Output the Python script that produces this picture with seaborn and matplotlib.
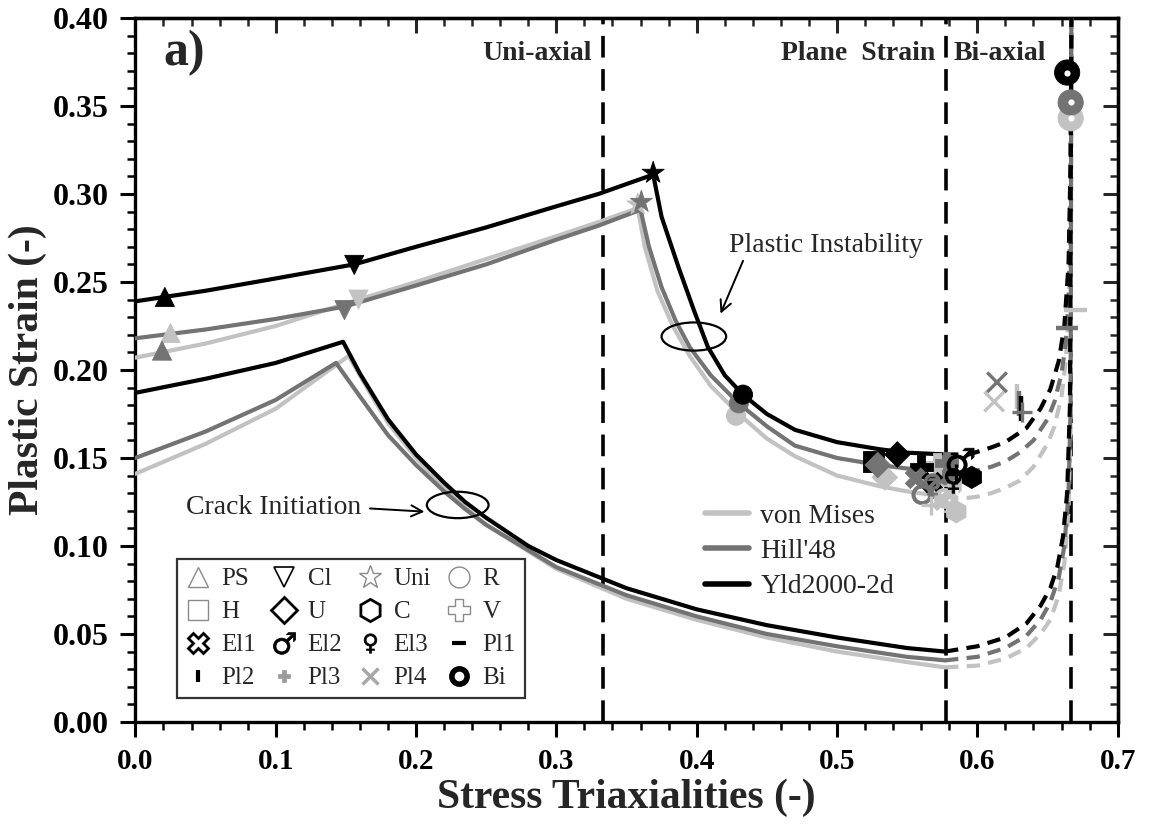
import matplotlib
matplotlib.use("Agg")
import numpy as np
import pandas as pd
import matplotlib.pyplot as plt
from matplotlib.patches import Ellipse
from matplotlib.lines import Line2D
import seaborn as sns

# ---------------------------------------------------------------- data
models = ["von Mises", "Hill'48", "Yld2000-2d"]
model_colors = ["#c2c2c2", "#737373", "#000000"]

# Plastic instability (forming limit) curves: solid part up to plane strain
inst_vm_x = [0.0, 0.05, 0.10, 0.159, 0.20, 0.25, 0.30, 0.33, 0.358, 0.363, 0.372, 0.383, 0.395, 0.41, 0.43, 0.45, 0.47, 0.50, 0.53, 0.55, 0.577]
inst_vm_y = [0.207, 0.215, 0.225, 0.240, 0.250, 0.263, 0.276, 0.284, 0.292, 0.270, 0.245, 0.225, 0.208, 0.191, 0.175, 0.161, 0.151, 0.140, 0.134, 0.131, 0.128]
inst_hill_x = [0.0, 0.05, 0.10, 0.149, 0.20, 0.25, 0.30, 0.33, 0.360, 0.366, 0.375, 0.385, 0.395, 0.41, 0.43, 0.45, 0.47, 0.50, 0.53, 0.55, 0.577]
inst_hill_y = [0.218, 0.223, 0.229, 0.236, 0.248, 0.260, 0.274, 0.282, 0.291, 0.270, 0.247, 0.228, 0.213, 0.197, 0.181, 0.168, 0.157, 0.150, 0.146, 0.144, 0.143]
inst_yld_x = [0.0, 0.05, 0.10, 0.156, 0.20, 0.25, 0.30, 0.33, 0.369, 0.375, 0.387, 0.398, 0.408, 0.42, 0.433, 0.45, 0.47, 0.50, 0.53, 0.55, 0.577]
inst_yld_y = [0.239, 0.245, 0.252, 0.260, 0.270, 0.281, 0.293, 0.300, 0.311, 0.287, 0.2585, 0.234, 0.213, 0.197, 0.186, 0.175, 0.166, 0.159, 0.155, 0.153, 0.152]

# Plastic instability: extrapolated part towards equi-biaxial
inst_vm_ext_x = [0.577, 0.59, 0.60, 0.61, 0.62, 0.63, 0.64, 0.65, 0.655, 0.66, 0.663, 0.665, 0.6665, 0.667]
inst_vm_ext_y = [0.128, 0.127, 0.128, 0.130, 0.133, 0.137, 0.145, 0.158, 0.168, 0.185, 0.205, 0.230, 0.280, 0.400]
inst_hill_ext_x = [0.577, 0.59, 0.60, 0.61, 0.62, 0.63, 0.64, 0.65, 0.655, 0.66, 0.663, 0.665, 0.6665, 0.667]
inst_hill_ext_y = [0.143, 0.1425, 0.143, 0.145, 0.148, 0.153, 0.160, 0.172, 0.182, 0.198, 0.215, 0.240, 0.300, 0.400]
inst_yld_ext_x = [0.577, 0.594, 0.61, 0.62, 0.635, 0.645, 0.652, 0.658, 0.662, 0.665, 0.6665, 0.667]
inst_yld_ext_y = [0.152, 0.152, 0.156, 0.159, 0.167, 0.178, 0.189, 0.205, 0.225, 0.260, 0.320, 0.400]

# Crack initiation (fracture) curves: solid part
crack_vm_x = [0.0, 0.05, 0.10, 0.152, 0.165, 0.18, 0.20, 0.22, 0.235, 0.25, 0.30, 0.35, 0.40, 0.45, 0.50, 0.55, 0.577]
crack_vm_y = [0.141, 0.158, 0.178, 0.208, 0.190, 0.170, 0.150, 0.133, 0.122, 0.112, 0.087, 0.070, 0.058, 0.048, 0.040, 0.034, 0.031]
crack_hill_x = [0.0, 0.05, 0.10, 0.143, 0.16, 0.18, 0.20, 0.22, 0.235, 0.25, 0.30, 0.35, 0.40, 0.45, 0.50, 0.55, 0.577]
crack_hill_y = [0.150, 0.165, 0.183, 0.204, 0.185, 0.163, 0.146, 0.131, 0.121, 0.112, 0.088, 0.072, 0.060, 0.050, 0.043, 0.037, 0.035]
crack_yld_x = [0.0, 0.05, 0.10, 0.148, 0.16, 0.18, 0.20, 0.22, 0.235, 0.25, 0.28, 0.30, 0.35, 0.40, 0.45, 0.50, 0.55, 0.577]
crack_yld_y = [0.187, 0.195, 0.204, 0.216, 0.198, 0.172, 0.152, 0.136, 0.125, 0.116, 0.100, 0.092, 0.076, 0.064, 0.055, 0.048, 0.042, 0.040]

# Crack initiation: extrapolated part
crack_vm_ext_x = [0.577, 0.60, 0.62, 0.635, 0.645, 0.652, 0.658, 0.662, 0.665, 0.6665, 0.667]
crack_vm_ext_y = [0.031, 0.032, 0.036, 0.042, 0.050, 0.058, 0.072, 0.090, 0.120, 0.170, 0.400]
crack_hill_ext_x = [0.577, 0.60, 0.62, 0.635, 0.645, 0.652, 0.658, 0.662, 0.665, 0.6665, 0.667]
crack_hill_ext_y = [0.035, 0.037, 0.042, 0.049, 0.058, 0.068, 0.082, 0.100, 0.130, 0.180, 0.400]
crack_yld_ext_x = [0.577, 0.60, 0.62, 0.635, 0.645, 0.652, 0.657, 0.661, 0.664, 0.666, 0.667]
crack_yld_ext_y = [0.040, 0.043, 0.048, 0.056, 0.066, 0.076, 0.088, 0.105, 0.130, 0.180, 0.400]

# Limit strains of the individual specimens (order: von Mises, Hill'48, Yld2000-2d)
ps_x, ps_y = [0.025, 0.019, 0.021], [0.221, 0.211, 0.2415]
cl_x, cl_y = [0.159, 0.149, 0.156], [0.240, 0.234, 0.2597]
uni_x, uni_y = [0.358, 0.3606, 0.369], [0.294, 0.2955, 0.312]
r_x, r_y = [0.428, 0.430, 0.433], [0.174, 0.181, 0.186]
h_x, h_y = [0.576, 0.5775, 0.526], [0.140, 0.146, 0.148]
u_x, u_y = [0.534, 0.529, 0.543], [0.139, 0.146, 0.152]
c_x, c_y = [0.585, 0.577, 0.596], [0.1195, 0.141, 0.139]
v_x, v_y = [0.571, 0.578, 0.560], [0.146, 0.147, 0.145]
el1_x, el1_y = [0.575, 0.556, 0.568], [0.126, 0.1385, 0.136]
el2_x, el2_y = [0.579, 0.563, 0.588], [0.129, 0.131, 0.148]
el3_x, el3_y = [0.580, 0.568, 0.583], [0.124, 0.134, 0.137]
pl1_x, pl1_y = [0.670, 0.664], [0.234, 0.224]
pl2_x, pl2_y = [0.628, 0.630, 0.631], [0.185, 0.181, 0.178]
pl3_x, pl3_y = [0.567, 0.632, 0.585], [0.123, 0.176, 0.141]
pl4_x, pl4_y = [0.612, 0.614], [0.182, 0.193]
bi_x, bi_y = [0.6665, 0.6665, 0.664], [0.343, 0.352, 0.369]

xticks = [0.0, 0.1, 0.2, 0.3, 0.4, 0.5, 0.6, 0.7]
yticks = [0.00, 0.05, 0.10, 0.15, 0.20, 0.25, 0.30, 0.35, 0.40]
region_bounds = [1 / 3, 0.5774, 0.6667]

# ---------------------------------------------------------------- style
sns.set_theme(style="ticks")
plt.rcParams["font.family"] = ["Liberation Serif", "DejaVu Sans"]
plt.rcParams["mathtext.fontset"] = "dejavusans"

fig = plt.figure(figsize=(11.57, 8.36), dpi=100)
ax = fig.add_axes([0.1170, 0.1364, 0.8490, 0.8421])
palette = dict(zip(models, model_colors))

LW = 3.0
DASH = (0, (3.2, 2.0))

curves = [
    (inst_vm_x, inst_vm_y, inst_vm_ext_x, inst_vm_ext_y, "von Mises"),
    (inst_hill_x, inst_hill_y, inst_hill_ext_x, inst_hill_ext_y, "Hill'48"),
    (inst_yld_x, inst_yld_y, inst_yld_ext_x, inst_yld_ext_y, "Yld2000-2d"),
    (crack_vm_x, crack_vm_y, crack_vm_ext_x, crack_vm_ext_y, "von Mises"),
    (crack_hill_x, crack_hill_y, crack_hill_ext_x, crack_hill_ext_y, "Hill'48"),
    (crack_yld_x, crack_yld_y, crack_yld_ext_x, crack_yld_ext_y, "Yld2000-2d"),
]
for sx, sy, ex, ey, m in curves:
    sns.lineplot(x=sx, y=sy, sort=False, estimator=None, color=palette[m],
                 lw=LW, ax=ax, zorder=3)
    sns.lineplot(x=ex, y=ey, sort=False, estimator=None, color=palette[m],
                 lw=LW, ax=ax, zorder=3, linestyle=DASH)

# stress-state boundaries
for xb in region_bounds:
    ax.axvline(xb, color="black", lw=2.6, linestyle=(0, (6, 3.2)), zorder=2)

# specimen markers
def scatter_group(xs, ys, marker, size, lw=0.6, z=5):
    df = pd.DataFrame({"x": xs, "y": ys, "model": models[:len(xs)]})
    sns.scatterplot(data=df, x="x", y="y", hue="model", palette=palette,
                    marker=marker, s=size, linewidth=lw, edgecolor="face",
                    legend=False, ax=ax, zorder=z)

scatter_group(ps_x, ps_y, "^", 190)
scatter_group(cl_x, cl_y, "v", 190)
scatter_group(uni_x, uni_y, "*", 280)
scatter_group(r_x, r_y, "o", 190)
scatter_group(h_x, h_y, "s", 220)
scatter_group(u_x, u_y, "D", 170)
scatter_group(c_x, c_y, "h", 260)
scatter_group(v_x, v_y, "P", 280)
scatter_group(el1_x, el1_y, "X", 220)
scatter_group(el2_x, el2_y, "$\u2642$", 380)
scatter_group(el3_x, el3_y, "$\u2640$", 320)
scatter_group(pl1_x, pl1_y, "_", 260, lw=3.2)
scatter_group(pl2_x, pl2_y, "|", 320, lw=3.2)
scatter_group(pl3_x, pl3_y, "+", 200, lw=2.4)
scatter_group(pl4_x, pl4_y, "x", 200, lw=2.4)
scatter_group(bi_x, bi_y, "o", 330, z=6)
sns.scatterplot(x=bi_x, y=bi_y, color="white", s=20, linewidth=0,
                legend=False, ax=ax, zorder=7)

# ---------------------------------------------------------------- axes
ax.set_xlim(0, 0.7)
ax.set_ylim(0, 0.40)
ax.set_xticks(xticks)
ax.set_yticks(yticks)
ax.set_xticklabels([f"{t:.1f}" for t in xticks])
ax.set_yticklabels([f"{t:.2f}" for t in yticks])
ax.set_xticks(np.arange(0, 0.7001, 0.02), minor=True)
ax.set_yticks(np.arange(0, 0.4001, 0.01), minor=True)
ax.tick_params(axis="both", which="major", direction="out", length=11, width=2.2,
               pad=8, color="black", labelcolor="black")
ax.tick_params(axis="x", which="major", labelsize=21)
ax.tick_params(axis="y", which="major", labelsize=23)
ax.tick_params(axis="both", which="minor", direction="out", length=6, width=1.8,
               color="black")
for lab in ax.get_xticklabels() + ax.get_yticklabels():
    lab.set_fontweight("bold")
for sp in ax.spines.values():
    sp.set_visible(True)
    sp.set_linewidth(2.4)
    sp.set_color("black")

top = ax.secondary_xaxis("top")
top.set_xticks(xticks)
top.set_xticks(np.arange(0, 0.7001, 0.02), minor=True)
top.tick_params(which="major", direction="in", length=11, width=2.2, labeltop=False)
top.tick_params(which="minor", direction="in", length=6, width=1.8)
top.spines["top"].set_linewidth(2.4)
right = ax.secondary_yaxis("right")
right.set_yticks(yticks)
right.set_yticks(np.arange(0, 0.4001, 0.01), minor=True)
right.tick_params(which="major", direction="in", length=11, width=2.2, labelright=False)
right.tick_params(which="minor", direction="in", length=6, width=1.8)
right.spines["right"].set_linewidth(2.4)

ax.set_xlabel("Stress Triaxialities (-)", fontsize=30, fontweight="bold", labelpad=2)
ax.set_ylabel("Plastic Strain (-)", fontsize=30, fontweight="bold", labelpad=4)

# ---------------------------------------------------------------- annotations
ax.text(0.020, 0.380, "a)", fontsize=36, fontweight="bold", va="center", ha="left")
ax.text(0.325, 0.380, "Uni-axial", fontsize=20, fontweight="bold", ha="right", va="center")
ax.text(0.570, 0.380, "Plane  Strain", fontsize=20, fontweight="bold", ha="right", va="center")
ax.text(0.583, 0.380, "Bi-axial", fontsize=20, fontweight="bold", ha="left", va="center")

ax.add_patch(Ellipse((0.398, 0.219), 0.046, 0.016, fill=False, lw=1.6,
                     edgecolor="black", zorder=8))
ax.add_patch(Ellipse((0.2297, 0.1233), 0.044, 0.015, fill=False, lw=1.6,
                     edgecolor="black", zorder=8))
ax.annotate("Plastic Instability", xy=(0.417, 0.232), xytext=(0.423, 0.271),
            fontsize=20, va="center", ha="left",
            arrowprops=dict(arrowstyle="->", lw=1.4, color="black",
                            shrinkA=0, shrinkB=0, relpos=(0.08, 0.0)))
ax.annotate("Crack Initiation", xy=(0.206, 0.1195), xytext=(0.036, 0.1216),
            fontsize=20, va="center", ha="left",
            arrowprops=dict(arrowstyle="->", lw=1.4, color="black",
                            shrinkA=4, shrinkB=0, relpos=(1.0, 0.5)))

# ---------------------------------------------------------------- legends
line_handles = [Line2D([], [], color=c, lw=4) for c in model_colors]
leg1 = ax.legend(line_handles, models, loc="upper left", bbox_to_anchor=(0.560, 0.338),
                 frameon=False, fontsize=20, handlelength=1.6, handletextpad=0.4,
                 labelspacing=0.35, borderpad=0.2)
ax.add_artist(leg1)

marker_labels = ["PS", "Cl", "Uni", "R", "H", "U", "C", "V",
                 "El1", "El2", "El3", "Pl1", "Pl2", "Pl3", "Pl4", "Bi"]
marker_styles = [
    ("^", 15, "#8a8a8a", "white", 1.0), ("v", 15, "black", "white", 1.2),
    ("*", 17, "#8a8a8a", "white", 1.0), ("o", 15, "#8a8a8a", "white", 1.0),
    ("s", 14, "#8a8a8a", "white", 1.0), ("D", 13, "black", "white", 2.0),
    ("h", 16, "black", "white", 2.0), ("P", 16, "#8a8a8a", "white", 1.0),
    ("X", 15, "black", "white", 2.0), ("$\u2642$", 16, "black", "black", 0.5),
    ("$\u2640$", 14, "black", "black", 0.5), ("_", 10, "black", "black", 3.0),
    ("|", 8, "black", "black", 3.0), ("P", 8, "#9a9a9a", "#9a9a9a", 0.5),
    ("x", 11, "#a8a8a8", "#a8a8a8", 2.5), ("o", 11, "black", "white", 4.0),
]
mk_handles = [Line2D([], [], linestyle="none", marker=m, markersize=ms,
                     markeredgecolor=ec, markerfacecolor=fc, markeredgewidth=mew)
              for m, ms, ec, fc, mew in marker_styles]
# ncol fills column by column; reorder so rows read PS, Cl, Uni, R, ...
order = [r * 4 + c for c in range(4) for r in range(4)]
leg2 = ax.legend([mk_handles[i] for i in order], [marker_labels[i] for i in order],
                 ncol=4, loc="lower left", bbox_to_anchor=(0.042, 0.034),
                 fontsize=18, frameon=True, fancybox=False, edgecolor="black",
                 handlelength=1.0, handletextpad=0.45, columnspacing=0.6,
                 labelspacing=0.42, borderpad=0.35, borderaxespad=0)
leg2.get_frame().set_linewidth(1.6)

fig.savefig("out.png", dpi=100)
